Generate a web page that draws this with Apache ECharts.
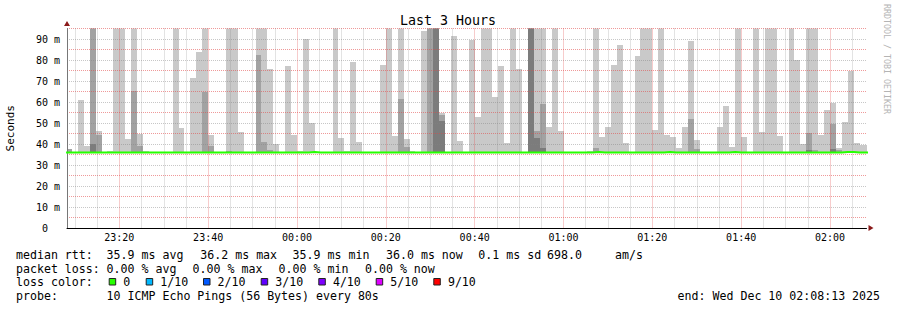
<!DOCTYPE html>
<html><head><meta charset="utf-8">
<script src="https://cdn.jsdelivr.net/npm/echarts@6/dist/echarts.min.js"></script>
<style>html,body{margin:0;padding:0;background:#fff}#c{width:897px;height:310px}</style>
</head><body><div id="c"></div>
<script>
// ---------------- data ----------------
// time in seconds after 23:00:00 (graph spans 23:08:13 .. 02:08:13)
const graphStartSec = 493;
const graphEndSec = 11293;
const firstStepSec = 480;   // first 80 s step starts 23:08:00
const stepSec = 80;

// top of the outer smoke band (highest ping) per step, ms; null = no spread; 100 = above chart
const smokeOuter = [
  37.6, null, 61.1, 39.2, 100, 46.3, null, 36.8, 100, 100,
  42.5, 100, 44.9, 36.8, null, null, null, null, 100, 47.8,
  null, 71.6, 84.0, 100, 44.4, null, null, 100, 100, 45.9,
  null, null, 100, 100, 75.9, 39.8, null, 77.3, 44.4, 36.8,
  90.1, 49.8, null, null, null, 100, 43.0, 36.8, 79.2, 41.1,
  null, null, null, 77.8, 100, 44.0, 100, 42.5, 36.8, null,
  94.0, 100, 100, 54.8, null, 91.6, 41.6, null, 89.7, 53.0,
  100, 100, 62.5, 77.3, 40.6, 100, 75.9, null, 100, 100,
  100, 48.3, 100, 46.3, null, null, null, null, 36.8, 100,
  43.5, 48.3, 77.8, 87.3, 40.6, null, 82.1, 100, 100, 46.8,
  100, 44.4, 43.5, 38.3, 48.3, 89.2, 42.0, null, null, null,
  48.3, 58.3, 38.7, 100, 43.5, null, 100, 45.9, 100, 100,
  44.0, null, 100, 80.1, 40.1, 100, 100, 44.4, 56.3, 59.7,
  38.3, 50.6, 74.9, 40.6, 39.7, 39.7
];
// second band (2nd highest ping): [step, ms]
const smokeMiddle = [
  [0, 37.6], [4, 100], [5, 44.4], [11, 65.4], [12, 39.2], [23, 64.9], [24, 39.2],
  [27, 36.8], [32, 82.5], [33, 41.1], [34, 37.0], [56, 61.6], [57, 38.7],
  [61, 100], [62, 100], [63, 53.6], [78, 100], [79, 46.3], [80, 59.2], [89, 38.3],
  [105, 52.1], [106, 37.8], [125, 45.4], [126, 37.3], [129, 49.7], [130, 37.3]
];
// inner band (3rd highest ping): [step, ms]
const smokeInner = [
  [4, 39.8], [62, 100], [63, 51.1], [78, 100], [79, 43.0], [80, 38.3], [125, 37.3], [129, 37.6]
];
const rttMin = 35.9;
// median rtt per step (ms): base value plus the steps where it is higher
const medianBumps = [[41, 36.2], [89, 36.2], [101, 36.2], [112, 36.2], [131, 36.2], [132, 36.2]];
const medianBase = 35.9;

const tickLabelSec = [1200, 2400, 3600, 4800, 6000, 7200, 8400, 9600, 10800];
const tickLabels = ['23:20', '23:40', '00:00', '00:20', '00:40', '01:00', '01:20', '01:40', '02:00'];

const statRow1 = ['median rtt:', '35.9 ms avg', '36.2 ms max', '35.9 ms min', '36.0 ms now', '0.1 ms sd', '698.0', 'am/s'];
const statRow2 = ['packet loss:', '0.00 % avg', '0.00 % max', '0.00 % min', '0.00 % now'];
const lossLabels = ['0', '1/10', '2/10', '3/10', '4/10', '5/10', '9/10'];
const lossColors = ['#26ff00', '#00b8ff', '#0059ff', '#5e00ff', '#7e00ff', '#dd00ff', '#ff0000'];
const probeText = '10 ICMP Echo Pings (56 Bytes) every 80s';
const endText = 'end: Wed Dec 10 02:08:13 2025';

// ---------------- build ----------------
const nSteps = smokeOuter.length;
const midMap = {}; smokeMiddle.forEach(p => midMap[p[0]] = p[1]);
const innMap = {}; smokeInner.forEach(p => innMap[p[0]] = p[1]);
const steps = [];
for (let k = 0; k < nSteps; k++) {
  if (smokeOuter[k] == null) continue;
  steps.push([firstStepSec + k * stepSec, firstStepSec + (k + 1) * stepSec, smokeOuter[k],
    midMap[k] != null ? midMap[k] : NaN, innMap[k] != null ? innMap[k] : NaN]);
}
const medMap = {}; medianBumps.forEach(p => medMap[p[0]] = p[1]);
const medianPts = [];
for (let k = 0; k < nSteps; k++) medianPts.push([firstStepSec + k * stepSec, medMap[k] != null ? medMap[k] : medianBase]);
medianPts.push([firstStepSec + nSteps * stepSec, medianPts[nSteps - 1][1]]);

const gridMinorSec = [];
for (let s = 600; s < graphEndSec; s += 300) gridMinorSec.push(s);

const mono = "'DejaVu Sans Mono', monospace";
const MAJOR = 'rgba(225,70,70,0.55)';
const MINOR = 'rgba(130,130,130,0.45)';
const shades = ['#c9c9c9', '#a2a2a2', '#7c7c7c'];

function txt(x, y, s, size, extra) {
  return Object.assign({
    type: 'text', x: x, y: y, silent: true,
    style: { text: s, fontFamily: mono, fontSize: size, fill: '#000', align: 'left', verticalAlign: 'middle', textAlign: 'left', textVerticalAlign: 'middle' }
  }, extra || {});
}
const graphics = [];
graphics.push(txt(448, 20, 'Last 3 Hours', 13.3, { style: { text: 'Last 3 Hours', fontFamily: mono, fontSize: 13.3, fill: '#000', align: 'center', textAlign: 'center', verticalAlign: 'middle', textVerticalAlign: 'middle' } }));
graphics.push({ type: 'text', x: 886.7, y: 4, rotation: -Math.PI / 2, silent: true,
  style: { text: 'RRDTOOL / TOBI OETIKER', fontFamily: mono, fontSize: 8.3, fill: '#b4b4b4', align: 'left', textAlign: 'left', verticalAlign: 'middle', textVerticalAlign: 'middle' } });
const r1x = [16, 106.6, 200.3, 292.6, 386, 478.3, 547, 615];
statRow1.forEach((s, i) => graphics.push(txt(r1x[i], 254.8, s, 11.6)));
const r2x = [16, 106.6, 192.6, 278.6, 365];
statRow2.forEach((s, i) => graphics.push(txt(r2x[i], 268.5, s, 11.6)));
graphics.push(txt(16, 282.2, 'loss color:', 11.6));
const boxX = [108.7, 145.7, 203, 260.7, 318.3, 375.7, 433.3];
lossLabels.forEach((s, i) => {
  graphics.push({ type: 'rect', silent: true, shape: { x: boxX[i] + 0.5, y: 278.5, width: 6.5, height: 6.5 }, style: { fill: lossColors[i], stroke: '#222', lineWidth: 1 } });
  graphics.push(txt(boxX[i] + 14.6, 282.2, s, 11.6));
});
graphics.push(txt(16, 295.8, 'probe:', 11.6));
graphics.push(txt(106.6, 295.8, probeText, 11.6));
graphics.push(txt(677.6, 295.8, endText, 11.6));

const chart = echarts.init(document.getElementById('c'), null, { renderer: 'svg', width: 897, height: 310 });
chart.setOption({
  animation: false,
  backgroundColor: '#fff',
  grid: { left: 67, right: 30.5, top: 28.5, bottom: 82, containLabel: false, outerBoundsMode: 'none' },
  xAxis: {
    type: 'value', min: graphStartSec, max: graphEndSec, z: 3,
    axisLine: { show: true, lineStyle: { color: '#000', width: 1 } },
    axisTick: { show: false, customValues: gridMinorSec },
    splitLine: { show: true, lineStyle: { color: [MINOR, MINOR, MAJOR, MINOR], type: [1, 1], width: 1 } },
    axisLabel: {
      customValues: tickLabelSec, margin: 4, fontFamily: mono, fontSize: 10, color: '#000',
      formatter: v => { const i = tickLabelSec.indexOf(Math.round(v)); return i >= 0 ? tickLabels[i] : ''; }
    }
  },
  yAxis: {
    type: 'value', min: 0, max: 95, interval: 5, z: 3,
    name: 'Seconds', nameLocation: 'middle', nameGap: 51,
    nameTextStyle: { fontFamily: mono, fontSize: 11, color: '#000' },
    axisLine: { show: true, lineStyle: { color: '#777', width: 1 } },
    axisTick: { show: false },
    splitLine: { show: true, showMinLine: false, lineStyle: { color: [MAJOR, MINOR], type: [1, 1], width: 1 } },
    axisLabel: {
      margin: 7, fontFamily: mono, fontSize: 10, color: '#000',
      formatter: v => (Math.round(v) % 10 !== 0 ? '' : (v === 0 ? '0  ' : Math.round(v) + ' m'))
    }
  },
  series: [
    {
      type: 'custom', z: 2, clip: true, silent: true,
      encode: { x: [0, 1], y: [2] },
      data: steps,
      renderItem: function (params, api) {
        const x0 = api.value(0), x1 = api.value(1);
        const kids = [];
        [2, 3, 4].forEach((dim, i) => {
          const top = api.value(dim);
          if (top == null || isNaN(top)) return;
          const a = api.coord([x0, rttMin]);
          const b = api.coord([x1, top]);
          const xa = Math.round(a[0]), xb = Math.round(b[0]);
          const yt = Math.round(b[1]), yb = Math.round(a[1]);
          kids.push({ type: 'rect', shape: { x: xa, y: yt, width: xb - xa, height: yb - yt }, style: { fill: shades[i] } });
        });
        return { type: 'group', children: kids };
      }
    },
    {
      type: 'line', z: 4, step: 'end', showSymbol: false, silent: true,
      data: medianPts,
      lineStyle: { color: '#26ff00', width: 2 },
      markPoint: {
        silent: true, symbol: 'triangle', symbolSize: [6, 5],
        itemStyle: { color: '#8b1a1a' }, label: { show: false },
        data: [
          { coord: [graphEndSec, 0], symbolRotate: -90, symbolOffset: [4.5, 0] },
          { coord: [graphStartSec, 95], symbolOffset: [0, -5] }
        ]
      }
    }
  ],
  graphic: graphics
});
</script>
</body></html>
